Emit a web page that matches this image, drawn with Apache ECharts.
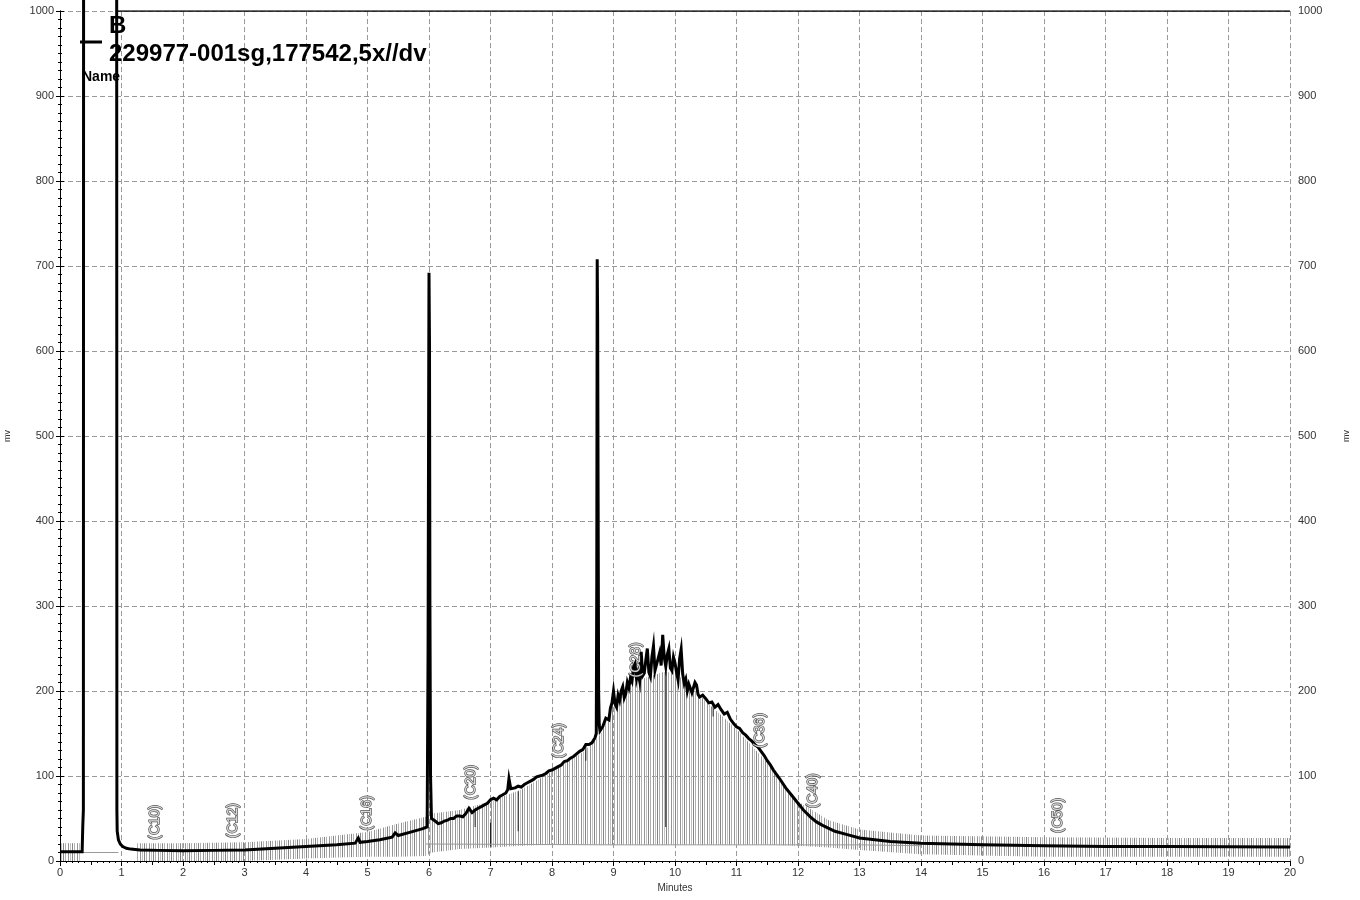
<!DOCTYPE html>
<html>
<head>
<meta charset="utf-8">
<script src="https://cdn.jsdelivr.net/npm/echarts@6/dist/echarts.min.js"></script>
<style>
html,body{margin:0;padding:0;background:#fff;}
#chart{width:1360px;height:900px;}
</style>
</head>
<body>
<div id="chart"></div>
<script>
// ---- data ----
const seriesName = '229977-001sg,177542,5x//dv';
const xTickLabels = ['0','1','2','3','4','5','6','7','8','9','10','11','12','13','14','15','16','17','18','19','20'];

const signalT = [0,0.2,0.36,0.37,0.38,0.385,0.92,0.925,0.93,0.95,0.98,1.02,1.08,1.15,1.3,1.6,2.0,2.5,3.0,3.5,4.0,4.5,4.8,4.85,4.88,5.0,5.2,5.4,5.45,5.5,5.7,5.9,5.97,
  5.985,5.995,6.0,6.008,6.015,6.025,6.04,
  6.1,6.15,6.2,6.25,6.3,6.35,6.4,6.45,6.5,6.55,6.6,6.65,6.7,6.75,6.8,6.85,6.9,6.95,7.0,7.05,7.1,7.15,7.2,7.25,7.28,7.3,7.33,7.4,7.45,7.5,7.55,7.6,7.65,7.7,7.75,7.8,7.85,7.9,7.95,8.0,8.05,8.1,8.15,8.2,8.25,8.3,8.35,8.4,8.45,8.5,8.55,8.6,8.65,
  8.7,8.72,8.728,8.735,8.742,8.75,8.758,8.768,8.78,
  8.8,8.825,8.85,8.875,8.9,8.925,8.95,8.975,
  9.0,9.025,9.05,9.075,9.1,9.125,9.15,9.175,9.2,9.225,9.25,9.275,9.3,9.325,9.35,9.375,9.4,9.425,9.45,9.475,9.5,9.525,9.55,9.575,9.6,9.625,9.65,9.675,9.7,9.725,9.75,9.775,9.8,9.825,9.85,9.875,9.9,9.925,9.95,9.975,10.0,10.025,10.05,10.075,10.1,10.125,10.15,10.175,10.2,10.225,10.25,10.275,10.3,10.325,10.35,10.375,10.4,
  10.45,10.5,10.55,10.6,10.65,10.7,10.75,10.8,10.85,10.9,10.95,11.0,11.05,11.1,11.15,11.2,11.25,11.3,11.35,11.4,11.45,11.5,11.55,11.6,11.65,11.7,
  11.8,11.9,12.0,12.1,12.2,12.3,12.4,12.6,12.8,13.0,13.5,14.0,15.0,16.0,17.0,18.0,20.0];
const signalV = [11,11,11,40,60,1500,1500,60,35,25,20,17,15,14,13,12.5,12,12.5,13,15,17,19,21,27,22,23,25,28,33,30,34,38,40,
  250,560,692,610,300,100,50,
  47,44,45,47,48,50,50,53,53,52,56,62,57,60,62,64,66,68,72,74,72,76,78,80,84,97,85,86,88,87,90,92,94,96,99,100,101,103,106,107,109,111,113,117,118,121,123,126,129,131,137,137,139,
  145,150,330,708,640,420,200,160,153,
  152,158,160,168,170,166,180,186,
  200,185,181,195,189,200,205,192,197,210,204,215,211,228,232,214,222,212,246,218,221,236,250,222,217,240,253,224,222,238,245,230,266,240,229,243,250,227,224,240,233,222,213,238,249,220,209,214,200,208,206,198,199,210,207,196,193,
  195,191,186,187,181,184,178,173,175,167,162,158,156,151,148,144,141,137,134,129,124,118,113,107,102,97,
  86,77,68,59,52,46,42,35,31,27,23,21,19,18,17,17,16.5];

const baselineT = [0.37,0.95,null,5.95,9.0,13.0,14.0];
const baselineV = [10,10,null,20,19,19,18];

const hatch1T    = [0.0,0.1,0.2,0.3,0.34];
const hatch1Low  = [0,0,0,0,0];
const hatch1High = [21,21,21,21,21];

const hatch2T    = [1.25,2,3,4,4.5,5,5.5,5.95,6.05,6.5,7,7.5,8,8.5,8.7,8.8,9.0,9.3,9.5,9.8,10,10.5,11,11.5,12,12.5,13,14,16,18,20];
const hatch2Low  = [0,0,0,3,4,5,5,6,10,14,16,18,19,19,19,19,19,19,19,19,19,19,19,19,18,16,13,8,5,5,5];
const hatch2High = [21,21,22,26,30,34,44,52,56,60,70,84,105,128,142,150,186,206,215,222,222,188,155,116,70,48,37,30,28,27,27];

const darkSlices = [[7.0,17,45],[7.45,35,82],[6.75,40,58],[8.55,118,137],[9.85,40,232],[10.62,170,186]];

const peakLabelT = [1.545,2.82,4.99,6.69,8.12,9.37,11.38,12.24,16.23];
const peakLabelV = [25,27,36,72,121,216,133,62,33];
const peakLabelText = ['(C10)','(C12)','(C16)','(C20)','(C24)','(C28)','(C36)','(C40)','(C50)'];

const topFrameT = [0.93,20];
const topFrameV = [1000,1000];

// ---- build ----
const FONT = 'Arial, "Liberation Sans", sans-serif';
const signalData = signalT.map((t,i)=>[t,signalV[i]]);
const baselineData = baselineT.map((t,i)=>[t,baselineV[i]]);
const topFrameData = topFrameT.map((t,i)=>[t,topFrameV[i]]);
const hatchSegments = [
  {t:hatch1T, low:hatch1Low, high:hatch1High},
  {t:hatch2T, low:hatch2Low, high:hatch2High}
];
const labelData = peakLabelT.map((t,i)=>({value:[t,peakLabelV[i]], name:peakLabelText[i]}));

// hatch pattern (vertical thin gray slice lines)
const pc = document.createElement('canvas');
pc.width = 9; pc.height = 4;
const pctx = pc.getContext('2d');
const cols = ['#858585','#b0b0b0','#959595','#c0c0c0'];
const xs = [0,2,5,7];
xs.forEach((x,i)=>{ pctx.fillStyle = cols[i]; pctx.fillRect(x,0,1,4); });
const hatchPattern = {image: pc, repeat: 'repeat'};

const chart = echarts.init(document.getElementById('chart'), null, {renderer:'canvas'});

const axisCommonY = {
  type:'value', min:0, max:1000, interval:100,
  name:'mv', nameLocation:'middle', nameRotate:90,
  nameTextStyle:{fontSize:9, color:'#333', fontFamily:FONT},
  axisLine:{show:true, lineStyle:{color:'#000', width:1}},
  axisTick:{show:true, length:4, lineStyle:{color:'#000'}},
  minorTick:{show:true, splitNumber:10, length:2, lineStyle:{color:'#000'}},
  axisLabel:{fontSize:11, color:'#333', fontFamily:FONT, formatter:(v)=>String(v)}
};

const option = {
  backgroundColor:'#fff',
  animation:false,
  grid:{left:60, right:70, top:11, bottom:39, containLabel:false, outerBoundsMode:'none'},
  xAxis:[{
    type:'value', min:0, max:20, interval:1, position:'bottom',
    name:'Minutes', nameLocation:'middle', nameGap:22,
    nameTextStyle:{fontSize:10, color:'#333', fontFamily:FONT},
    axisLine:{show:true, onZero:false, lineStyle:{color:'#000', width:1}},
    axisTick:{show:true, length:5, lineStyle:{color:'#000'}},
    minorTick:{show:true, splitNumber:10, length:2, lineStyle:{color:'#000'}},
    axisLabel:{fontSize:11, color:'#333', fontFamily:FONT, margin:6,
      formatter:(v)=>xTickLabels[Math.round(v)] || ''},
    splitLine:{show:true, lineStyle:{color:'#9a9a9a', type:[5,3], width:1}}
  },{
    type:'value', min:0, max:20, interval:0.5, position:'bottom',
    axisLine:{show:false, onZero:false},
    axisTick:{show:true, length:4, lineStyle:{color:'#000'}},
    axisLabel:{show:false}, splitLine:{show:false}
  }],
  yAxis:[Object.assign({}, axisCommonY, {
    position:'left', nameGap:48,
    axisLabel:Object.assign({}, axisCommonY.axisLabel, {margin:6}),
    splitLine:{show:true, lineStyle:{color:'#9a9a9a', type:[5,3], width:1}}
  }), Object.assign({}, axisCommonY, {
    position:'right', nameGap:52,
    axisLabel:Object.assign({}, axisCommonY.axisLabel, {margin:8}),
    splitLine:{show:false}
  })],
  series:[
    {
      name:'hatch', type:'custom', xAxisIndex:0, yAxisIndex:0, z:1,
      data:hatchSegments.map((s,i)=>[s.t[0], s.low[0]]),
      renderItem:function(params, api){
        const seg = hatchSegments[params.dataIndex];
        const pts = [];
        for (let i=0;i<seg.t.length;i++) pts.push(api.coord([seg.t[i], seg.high[i]]));
        for (let i=seg.t.length-1;i>=0;i--) pts.push(api.coord([seg.t[i], seg.low[i]]));
        return {type:'polygon', shape:{points:pts}, style:{fill:hatchPattern, stroke:null}};
      },
      silent:true
    },
    {
      name:'baseline', type:'line', data:baselineData, symbol:'none', z:2,
      lineStyle:{color:'#9a9a9a', width:1}, connectNulls:false, silent:true
    },
    {
      name:'slices', type:'custom', z:2, data:darkSlices,
      renderItem:function(params, api){
        const a = api.coord([api.value(0), api.value(1)]);
        const b = api.coord([api.value(0), api.value(2)]);
        return {type:'line', shape:{x1:a[0],y1:a[1],x2:b[0],y2:b[1]}, style:{stroke:'#222', lineWidth:1}};
      },
      silent:true
    },
    {
      name:seriesName, type:'line', data:signalData, symbol:'none', z:5, clip:false,
      lineStyle:{color:'#000', width:3, join:'miter'}, silent:true
    },
    {
      name:'frame', type:'line', data:topFrameData, symbol:'none', z:5,
      lineStyle:{color:'#000', width:1.5}, silent:true
    },
    {
      name:'labels', type:'scatter', data:labelData, symbolSize:0, z:6,
      label:{show:true, position:'inside', rotate:90, align:'left', verticalAlign:'middle',
        formatter:(p)=>p.name, fontFamily:FONT, fontSize:14, color:'#fff',
        textBorderColor:'#222', textBorderWidth:1.4},
      silent:true
    }
  ],
  graphic:[
    {type:'line', shape:{x1:80,y1:42,x2:102,y2:42}, style:{stroke:'#000', lineWidth:3}, z:10},
    {type:'text', x:109, y:14, style:{text:'B', font:'bold 24px '+FONT, fill:'#000'}, z:10},
    {type:'text', x:109, y:42, style:{text:seriesName, font:'bold 24px '+FONT, fill:'#000'}, z:10},
    {type:'text', x:82, y:70, style:{text:'Name', font:'bold 14px '+FONT, fill:'#000'}, z:10}
  ]
};
chart.setOption(option);
</script>
</body>
</html>
